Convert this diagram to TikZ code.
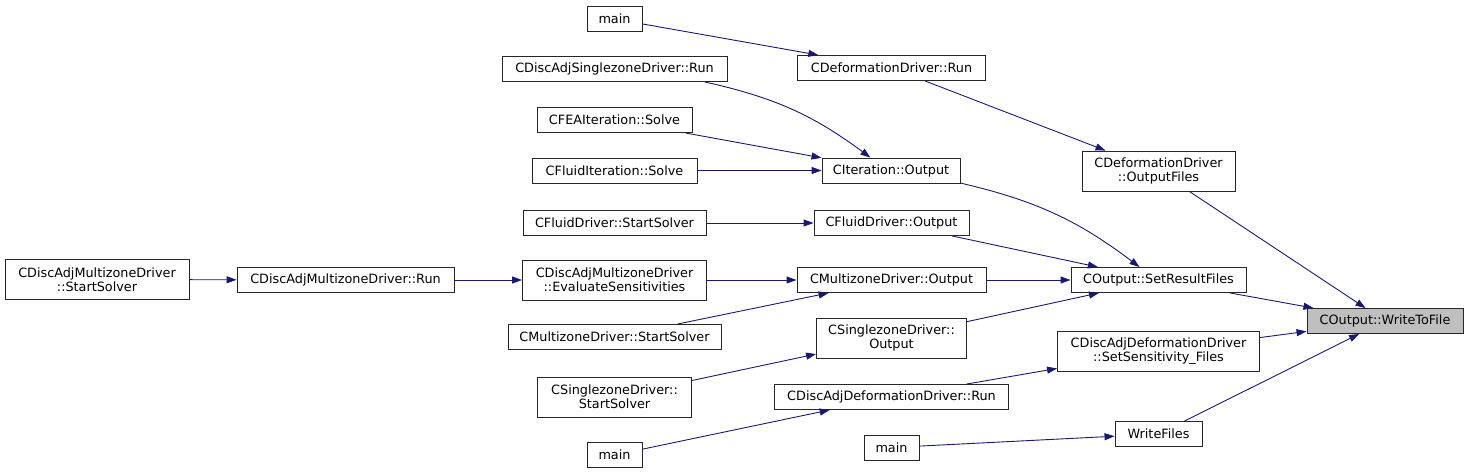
\documentclass[tikz,border=0pt]{standalone}
\usepackage{fontspec}
\setmainfont{DejaVu Sans}
\usepackage{xcolor}
\usetikzlibrary{arrows.meta}
\definecolor{edgeblue}{HTML}{191970}

\begin{document}
\begin{tikzpicture}[x=1pt,y=-1pt,>={Triangle[length=10pt,width=7pt]},
  fn/.style={draw=black!85,line width=0.9pt,fill=white,inner sep=2pt,minimum height=25pt,align=center,font=\fontsize{12.8}{14}\selectfont},
  fntwo/.style={fn,minimum height=40pt},
  cur/.style={fn,fill=gray!50},
  call/.style={->,draw=edgeblue,line width=0.9pt}]
\useasboundingbox (0,0) rectangle (1468,475);
% leftmost callers
\node[fntwo,minimum width=184] (dazStart) at (97,279.5) {CDiscAdjMultizoneDriver\\::StartSolver};
\node[fn,minimum width=217] (dazRun) at (345.5,280) {CDiscAdjMultizoneDriver::Run};
% second column
\node[fn,minimum width=55] (mainA) at (614.5,19) {main};
\node[fn,minimum width=225] (dasRun) at (614.5,69) {CDiscAdjSinglezoneDriver::Run};
\node[fn,minimum width=155] (feaSolve) at (614.5,120) {CFEAIteration::Solve};
\node[fn,minimum width=165] (fluidItSolve) at (614.5,170.5) {CFluidIteration::Solve};
\node[fn,minimum width=183] (fluidStart) at (614.5,223) {CFluidDriver::StartSolver};
\node[fntwo,minimum width=184] (evalSens) at (614.5,280) {CDiscAdjMultizoneDriver\\::EvaluateSensitivities};
\node[fn,minimum width=213] (mzStart) at (614.5,337) {CMultizoneDriver::StartSolver};
\node[fntwo,minimum width=154] (szStart) at (614.5,397) {CSinglezoneDriver::\\StartSolver};
\node[fn,minimum width=55] (mainB) at (614.5,455) {main};
% third column
\node[fn,minimum width=188] (defRun) at (891.5,68) {CDeformationDriver::Run};
\node[fn,minimum width=138] (itOut) at (891,170.5) {CIteration::Output};
\node[fn,minimum width=155] (fluidOut) at (891.5,223) {CFluidDriver::Output};
\node[fn,minimum width=189] (mzOut) at (891.5,280) {CMultizoneDriver::Output};
\node[fntwo,minimum width=150] (szOut) at (891.5,338) {CSinglezoneDriver::\\Output};
\node[fn,minimum width=234] (dadRun) at (891.5,397) {CDiscAdjDeformationDriver::Run};
\node[fn,minimum width=55] (mainC) at (891.5,447.5) {main};
% fourth column
\node[fntwo,minimum width=153] (defOutFiles) at (1158.5,171) {CDeformationDriver\\::OutputFiles};
\node[fn,minimum width=175] (setResult) at (1158.5,280) {COutput::SetResultFiles};
\node[fntwo,minimum width=202] (dadSens) at (1158.5,351) {CDiscAdjDeformationDriver\\::SetSensitivity\_Files};
\node[fn,minimum width=87] (writeFiles) at (1158.5,434) {WriteFiles};
% the function itself
\node[cur,minimum width=156] (writeTo) at (1385,321) {COutput::WriteToFile};

\draw[call] (dazStart) -- (dazRun);
\draw[call] (dazRun) -- (evalSens);
\draw[call] (mainA) -- (defRun);
\draw[call] (dasRun) to[bend left=12] (itOut);
\draw[call] (feaSolve) -- (itOut);
\draw[call] (fluidItSolve) -- (itOut);
\draw[call] (fluidStart) -- (fluidOut);
\draw[call] (evalSens) -- (mzOut);
\draw[call] (mzStart) -- (mzOut);
\draw[call] (szStart) -- (szOut);
\draw[call] (mainB) -- (dadRun);
\draw[call] (defRun) -- (defOutFiles);
\draw[call] (itOut) to[bend left=12] (setResult);
\draw[call] (fluidOut) -- (setResult);
\draw[call] (mzOut) -- (setResult);
\draw[call] (szOut) -- (setResult);
\draw[call] (dadRun) -- (dadSens);
\draw[call] (mainC) -- (writeFiles);
\draw[call] (defOutFiles) -- (writeTo);
\draw[call] (setResult) -- (writeTo);
\draw[call] (dadSens) -- (writeTo);
\draw[call] (writeFiles) -- (writeTo);
\end{tikzpicture}
\end{document}
